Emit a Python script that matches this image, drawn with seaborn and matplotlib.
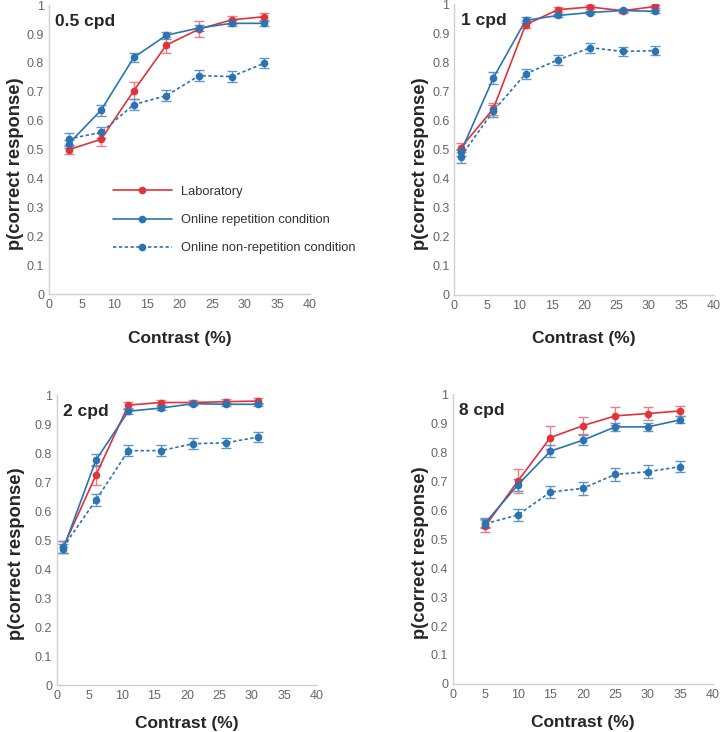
import numpy as np
import pandas as pd
import seaborn as sns
import matplotlib.pyplot as plt

# contrast levels per panel
x_05 = [3, 8, 13, 18, 23, 28, 33]
x_1 = [1, 6, 11, 16, 21, 26, 31]
x_2 = [1, 6, 11, 16, 21, 26, 31]
x_8 = [5, 10, 15, 20, 25, 30, 35]

# 0.5 cpd
lab_05 = [0.500, 0.536, 0.704, 0.862, 0.917, 0.949, 0.960]
lab_05_err = [0.014, 0.022, 0.029, 0.027, 0.027, 0.015, 0.012]
rep_05 = [0.520, 0.637, 0.819, 0.896, 0.921, 0.937, 0.937]
rep_05_err = [0.013, 0.019, 0.016, 0.012, 0.011, 0.010, 0.008]
nonrep_05 = [0.537, 0.560, 0.656, 0.687, 0.756, 0.753, 0.799]
nonrep_05_err = [0.020, 0.018, 0.020, 0.018, 0.020, 0.019, 0.017]

# 1 cpd
lab_1 = [0.507, 0.640, 0.930, 0.982, 0.991, 0.978, 0.993]
lab_1_err = [0.015, 0.020, 0.012, 0.008, 0.006, 0.006, 0.006]
rep_1 = [0.492, 0.746, 0.945, 0.962, 0.972, 0.979, 0.976]
rep_1_err = [0.012, 0.020, 0.010, 0.006, 0.006, 0.006, 0.006]
nonrep_1 = [0.476, 0.633, 0.761, 0.809, 0.851, 0.838, 0.841]
nonrep_1_err = [0.022, 0.020, 0.017, 0.017, 0.017, 0.016, 0.016]

# 2 cpd
lab_2 = [0.477, 0.724, 0.966, 0.975, 0.975, 0.978, 0.980]
lab_2_err = [0.020, 0.035, 0.010, 0.008, 0.008, 0.008, 0.010]
rep_2 = [0.471, 0.776, 0.945, 0.956, 0.971, 0.969, 0.969]
rep_2_err = [0.015, 0.020, 0.008, 0.008, 0.006, 0.006, 0.006]
nonrep_2 = [0.477, 0.638, 0.809, 0.809, 0.833, 0.836, 0.856]
nonrep_2_err = [0.020, 0.020, 0.020, 0.018, 0.018, 0.018, 0.017]

# 8 cpd
lab_8 = [0.545, 0.700, 0.850, 0.891, 0.925, 0.933, 0.942]
lab_8_err = [0.020, 0.040, 0.040, 0.030, 0.030, 0.022, 0.018]
rep_8 = [0.556, 0.687, 0.803, 0.841, 0.887, 0.887, 0.911]
rep_8_err = [0.015, 0.020, 0.020, 0.018, 0.015, 0.013, 0.012]
nonrep_8 = [0.553, 0.583, 0.662, 0.675, 0.723, 0.732, 0.750]
nonrep_8_err = [0.015, 0.022, 0.022, 0.022, 0.022, 0.022, 0.020]

conditions = ["Laboratory", "Online repetition condition", "Online non-repetition condition"]
RED = "#e2323a"
BLUE = "#2b73b1"
colors = {conditions[0]: RED, conditions[1]: BLUE, conditions[2]: BLUE}
ERR_COLORS = {conditions[0]: "#ec7d80", conditions[1]: "#5f97c8", conditions[2]: "#5f97c8"}

sns.set_style("white")
plt.rcParams["font.family"] = ["Liberation Sans", "DejaVu Sans"]

# title, x, series, errors, axes rect, xlabel pad, ylabel x position (axes coords)
panels = [
    ("0.5 cpd", x_05, [lab_05, rep_05, nonrep_05], [lab_05_err, rep_05_err, nonrep_05_err],
     [0.068, 0.598, 0.3625, 0.395], 14, -0.095),
    ("1 cpd", x_1, [lab_1, rep_1, nonrep_1], [lab_1_err, rep_1_err, nonrep_1_err],
     [0.631, 0.597, 0.360, 0.397], 14, -0.097),
    ("2 cpd", x_2, [lab_2, rep_2, nonrep_2], [lab_2_err, rep_2_err, nonrep_2_err],
     [0.079, 0.064, 0.361, 0.396], 10, -0.121),
    ("8 cpd", x_8, [lab_8, rep_8, nonrep_8], [lab_8_err, rep_8_err, nonrep_8_err],
     [0.629, 0.0656, 0.361, 0.396], 10, -0.093),
]

fig = plt.figure(figsize=(7.2, 7.32), dpi=100)

for i, (title, xs, ys, errs, rect, xpad, ylab_x) in enumerate(panels):
    ax = fig.add_axes(rect)
    rows = []
    for cond, yv, ev in zip(conditions, ys, errs):
        for xv, yy, ee in zip(xs, yv, ev):
            rows.append({"contrast": xv, "p": yy, "err": ee, "condition": cond})
    df = pd.DataFrame(rows)

    # error bars first, lighter colour
    for cond in conditions:
        sub = df[df["condition"] == cond]
        ax.errorbar(sub["contrast"], sub["p"], yerr=sub["err"], fmt="none",
                    ecolor=ERR_COLORS[cond], elinewidth=1.0, capsize=3.5, capthick=1.0, zorder=2)

    sns.lineplot(data=df, x="contrast", y="p", hue="condition", style="condition",
                 hue_order=conditions, style_order=conditions, palette=colors,
                 dashes={conditions[0]: "", conditions[1]: "", conditions[2]: (2, 1.5)},
                 markers={c: "o" for c in conditions}, markersize=5.5, markeredgewidth=0,
                 linewidth=1.2, ax=ax, legend=(i == 0), zorder=3)

    ax.set_xlim(0, 40)
    ax.set_ylim(0, 1)
    ax.set_xticks(np.arange(0, 41, 5))
    ax.set_yticks(np.arange(0, 1.01, 0.1))
    ax.set_yticklabels(["0"] + [f"{v:.1f}" for v in np.arange(0.1, 0.95, 0.1)] + ["1"])
    ax.tick_params(axis="both", length=0, labelsize=9, colors="#666666", pad=3.5)
    for s in ["top", "right"]:
        ax.spines[s].set_visible(False)
    for s in ["left", "bottom"]:
        ax.spines[s].set_color("#cfcfcf")
        ax.spines[s].set_linewidth(1.0)

    ax.set_xlabel("Contrast (%)", fontsize=12.5, fontweight="bold", labelpad=xpad)
    ax.set_ylabel("p(correct response)", fontsize=13.2, fontweight="bold")
    ax.yaxis.set_label_coords(ylab_x, 0.452)
    ax.text(0.025, 0.97, title, transform=ax.transAxes, fontsize=12.5,
            fontweight="bold", va="top", ha="left")

    if i == 0:
        leg = ax.legend(loc="upper left", bbox_to_anchor=(0.2, 0.415), frameon=False,
                        fontsize=9.3, handlelength=4.6, handletextpad=0.7, labelspacing=1.25)
        for t in leg.get_texts():
            t.set_color("#333333")

fig.savefig("out.png", dpi=100)
